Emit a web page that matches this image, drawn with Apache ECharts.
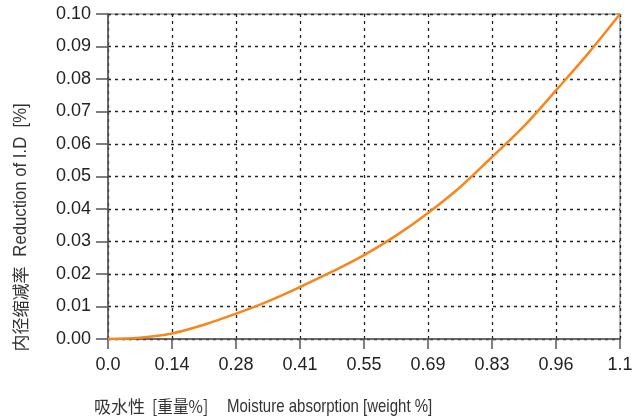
<!DOCTYPE html>
<html><head><meta charset="utf-8">
<script src="https://cdn.jsdelivr.net/npm/echarts@6/dist/echarts.min.js"></script>
<style>html,body{margin:0;padding:0;background:#fff}#c{width:641px;height:418px}</style>
</head><body><div id="c"></div>
<script>
const xTickLabels = ['0.0','0.14','0.28','0.41','0.55','0.69','0.83','0.96','1.1'];
const xValues = [0, 0.06875, 0.1375, 0.20625, 0.275, 0.34375, 0.4125, 0.48125, 0.55, 0.61875, 0.6875, 0.75625, 0.825, 0.89375, 0.9625, 1.03125, 1.1];
const yValues = [0, 0.0004, 0.0017, 0.0044, 0.0078, 0.0116, 0.016, 0.0207, 0.0258, 0.0318, 0.0388, 0.0467, 0.056, 0.0655, 0.0765, 0.0878, 0.1];
const yTitleCJK = '内径缩减率';
const yTitleLatin = 'Reduction of I.D  [%]';
const xTitleCJK1 = '吸水性';
const xTitleCJK2 = '[重量%]';
const xTitleLatin = 'Moisture absorption [weight %]';
const xStep = 0.1375;

const chart = echarts.init(document.getElementById('c'));
const font = "'Liberation Sans', sans-serif";
const cjk = "'Noto Sans CJK SC', sans-serif";
chart.setOption({
  animation: false,
  grid: {left: 108, top: 14, right: 21, bottom: 79, show: true, borderColor: '#666', borderWidth: 1},
  xAxis: {
    type: 'value', min: 0, max: 1.1, interval: xStep,
    axisLine: {show: true, lineStyle: {color: '#555', width: 1.5}},
    axisTick: {show: true, length: 10, lineStyle: {color: '#555', width: 1.5}},
    axisLabel: {fontSize: 18, color: '#222', fontFamily: font, margin: 17,
      formatter: v => xTickLabels[Math.round(v / xStep)]},
    splitLine: {show: true, lineStyle: {color: '#222', type: [3, 4], width: 1.3}}
  },
  yAxis: {
    type: 'value', min: 0, max: 0.1, interval: 0.01,
    axisLine: {show: true, lineStyle: {color: '#555', width: 1.5}},
    axisTick: {show: true, length: 12, lineStyle: {color: '#555', width: 1.5}},
    axisLabel: {fontSize: 18, color: '#222', fontFamily: font, margin: 17,
      formatter: v => v.toFixed(2)},
    splitLine: {show: true, lineStyle: {color: '#222', type: [3, 4], width: 1.3}}
  },
  graphic: [
    {type: 'text', x: 21, y: 309, rotation: Math.PI / 2,
      style: {text: yTitleCJK, font: '17px ' + cjk, fill: '#333', align: 'center', verticalAlign: 'middle'}},
    {type: 'text', x: 21, y: 180, rotation: Math.PI / 2, scaleX: 0.88,
      style: {text: yTitleLatin, font: '19px ' + font, fill: '#333', align: 'center', verticalAlign: 'middle'}},
    {type: 'text', x: 94, y: 407,
      style: {text: xTitleCJK1, font: '17px ' + cjk, fill: '#333', align: 'left', verticalAlign: 'middle'}},
    {type: 'text', x: 152, y: 407, scaleX: 0.92,
      style: {text: xTitleCJK2, font: '17px ' + cjk, fill: '#333', align: 'left', verticalAlign: 'middle'}},
    {type: 'text', x: 227, y: 407, scaleX: 0.79,
      style: {text: xTitleLatin, font: '19px ' + font, fill: '#333', align: 'left', verticalAlign: 'middle'}}
  ],
  series: [{
    type: 'line', smooth: 0.35, showSymbol: false,
    data: xValues.map((x, i) => [x, yValues[i]]),
    lineStyle: {color: '#f7861c', width: 2.5}
  }]
});
</script></body></html>
